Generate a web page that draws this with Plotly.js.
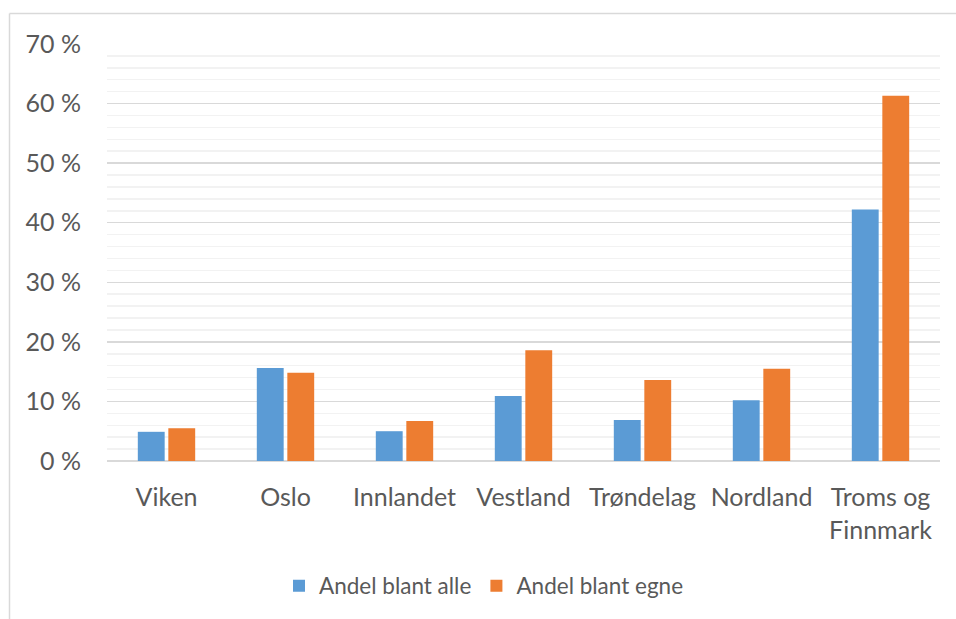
<!DOCTYPE html>
<html>
<head>
<meta charset="utf-8">
<script src="https://cdn.plot.ly/plotly-3.0.1.min.js"></script>
<style>html,body{margin:0;padding:0;background:#fff;}#chart{width:956px;height:619px;}</style>
</head>
<body>
<div id="chart"></div>
<script>
const categories = ["Viken", "Oslo", "Innlandet", "Vestland", "Trøndelag", "Nordland", "Troms og<br>Finnmark"];
const seriesNames = ["Andel blant alle", "Andel blant egne"];
const andelAlle = [4.9, 15.6, 5.0, 10.9, 6.9, 10.2, 42.2];
const andelEgne = [5.5, 14.8, 6.7, 18.6, 13.6, 15.5, 61.3];
const colors = ["#5B9BD5", "#ED7D31"];

const textColor = "#595959";
const fontFamily = "Lato, 'Open Sans', sans-serif";

const traces = [andelAlle, andelEgne].map((vals, i) => ({
  type: "bar",
  name: seriesNames[i],
  x: categories,
  y: vals,
  marker: {color: colors[i]},
  hoverinfo: "skip"
}));

const pxToPaperX = px => (px - 107) / 833;
const pxToPaperY = py => (461 - py) / 417;

const layout = {
  width: 956,
  height: 619,
  margin: {l: 107, r: 16, t: 44, b: 158},
  paper_bgcolor: "#ffffff",
  plot_bgcolor: "#ffffff",
  barmode: "group",
  bargap: 0.487,
  bargroupgap: 0.12,
  font: {family: fontFamily, color: textColor},
  showlegend: true,
  legend: {
    orientation: "h",
    x: pxToPaperX(484),
    xanchor: "center",
    y: pxToPaperY(586),
    yanchor: "middle",
    font: {size: 22.5, color: textColor, family: fontFamily},
    itemwidth: 30,
    tracegroupgap: 0
  },
  xaxis: {
    type: "category",
    tickangle: 0,
    showgrid: false,
    showline: false,
    zeroline: false,
    ticks: "",
    tickfont: {size: 25, color: textColor, family: fontFamily},
    ticklabelstandoff: 19
  },
  yaxis: {
    range: [0, 70],
    dtick: 10,
    ticksuffix: " %",
    showgrid: true,
    gridcolor: "#d9d9d9",
    gridwidth: 1.5,
    zeroline: true,
    zerolinecolor: "#d9d9d9",
    zerolinewidth: 1.5,
    showline: false,
    ticks: "",
    tickfont: {size: 25, color: textColor, family: fontFamily},
    ticklabelstandoff: 25,
    minor: {dtick: 2, showgrid: true, gridcolor: "#f2f2f2", gridwidth: 1.5}
  },
  shapes: [
    {type: "line", xref: "paper", yref: "paper", x0: pxToPaperX(9.5), x1: pxToPaperX(9.5), y0: pxToPaperY(13.5), y1: pxToPaperY(640), line: {color: "#d9d9d9", width: 1.5}},
    {type: "line", xref: "paper", yref: "paper", x0: pxToPaperX(9.5), x1: pxToPaperX(970), y0: pxToPaperY(13.5), y1: pxToPaperY(13.5), line: {color: "#d9d9d9", width: 1.5}}
  ]
};

Plotly.newPlot("chart", traces, layout, {displayModeBar: false, staticPlot: true});
</script>
</body>
</html>
